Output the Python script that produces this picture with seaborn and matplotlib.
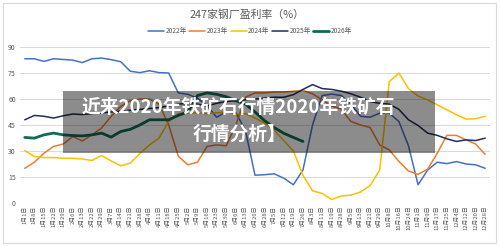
import numpy as np
import pandas as pd
import matplotlib.pyplot as plt
import seaborn as sns
from matplotlib.patches import Rectangle

# 数据
dates = ['1月1日', '1月8日', '1月15日', '1月22日', '1月29日', '2月6日', '2月13日', '2月22日',
         '2月29日', '3月7日', '3月14日', '3月21日', '3月28日', '4月4日', '4月11日', '4月18日',
         '4月25日', '5月2日', '5月9日', '5月16日', '5月23日', '5月30日', '6月6日', '6月13日',
         '6月20日', '6月28日', '7月5日', '7月12日', '7月19日', '7月26日', '8月3日', '8月11日',
         '8月19日', '8月28日', '9月5日', '9月13日', '9月21日', '9月29日', '10月8日', '10月16日',
         '10月24日', '11月1日', '11月9日', '11月17日', '11月25日', '12月4日', '12月12日',
         '12月20日', '12月28日']

y2022 = [83.2, 83.2, 81.7, 83.2, 82.8, 82.4, 81.0, 83.2, 83.6, 82.7, 81.5, 76.0, 75.2,
         76.3, 75.2, 75.0, 63.5, 62.7, 60.5, 56.0, 49.5, 52.5, 52.0, 42.0, 16.0, 16.3,
         16.8, 14.3, 10.5, 19.0, 45.0, 62.0, 62.8, 62.0, 57.0, 50.0, 49.5, 51.8, 51.8,
         47.0, 33.0, 10.5, 19.0, 23.5, 22.7, 23.9, 22.5, 22.0, 20.0]
y2023 = [20.0, 23.5, 28.7, 32.6, 34.0, 38.3, 35.8, 39.3, 43.2, 50.0, 55.7, 59.0, 60.0,
         60.0, 57.0, 45.0, 27.0, 22.0, 23.5, 32.6, 33.5, 33.0, 45.0, 61.0, 63.5, 63.5,
         64.0, 64.0, 64.5, 65.0, 63.0, 59.5, 56.0, 54.0, 47.0, 45.0, 43.5, 33.5, 30.6,
         24.0, 18.5, 16.5, 19.5, 28.7, 39.0, 39.0, 36.4, 34.0, 28.0]
y2024 = [30.2, 26.8, 26.2, 26.2, 25.8, 25.8, 25.4, 24.5, 27.4, 24.3, 21.4, 23.0, 28.5,
         33.5, 37.5, 47.0, 51.5, 52.0, 52.0, 51.5, 52.0, 52.5, 51.0, 51.5, 49.0, 46.0,
         42.0, 36.0, 30.0, 16.0, 7.0, 5.5, 2.0, 4.0, 4.5, 6.3, 10.0, 19.0, 70.0,
         75.0, 66.0, 61.7, 59.5, 56.6, 53.8, 50.9, 48.4, 48.6, 50.0]
y2025 = [48.0, 50.5, 50.0, 49.0, 50.3, 51.3, 51.0, 51.5, 52.0, 52.5, 53.0, 53.5, 54.0,
         54.5, 55.0, 56.0, 57.0, 57.5, 57.0, 56.0, 57.5, 58.5, 59.0, 59.5, 60.0, 60.5,
         61.0, 61.0, 62.5, 65.5, 68.3, 66.0, 65.5, 64.5, 63.0, 61.0, 58.5, 57.5, 57.0,
         54.0, 48.0, 44.7, 40.3, 39.0, 37.0, 35.5, 36.4, 36.0, 37.4]
y2026 = [37.8, 37.4, 39.3, 40.3, 39.3, 38.9, 38.7, 39.3, 40.3, 38.0, 41.2, 42.5, 45.0,
         48.0, 48.0, 48.0, 50.5, 52.5, 62.0, 63.5, 62.7, 61.3, 59.0, 57.0, 52.5, 47.5,
         43.5, 40.2, 37.8, 35.5] + [np.nan] * 19

years = ['2022年', '2023年', '2024年', '2025年', '2026年']
colors = ['#4472C4', '#ED7D31', '#FFC000', '#1F2D5A', '#0F6B55']
widths = [1.1, 1.1, 1.1, 1.1, 2.0]

df = pd.DataFrame({'日期': dates, '2022年': y2022, '2023年': y2023,
                   '2024年': y2024, '2025年': y2025, '2026年': y2026})
df['x'] = np.arange(len(dates))

sns.set_theme(style='white')
plt.rcParams['font.family'] = ['Noto Sans CJK SC', 'DejaVu Sans']

fig = plt.figure(figsize=(5, 2.46), dpi=100)
ax = fig.add_axes([0.04, 0.175, 0.94, 0.634])

for year, c, w in zip(years, colors, widths):
    sns.lineplot(data=df, x='x', y=year, ax=ax, color=c, linewidth=w, label=year)

ax.set_xlim(-0.5, len(dates) - 0.5)
ax.set_ylim(0, 90)
ax.set_yticks(range(0, 91, 15))
ax.set_xticks(df['x'])
ax.set_xticklabels(dates, rotation=90, fontsize=4.2, color='#595959')
ax.tick_params(axis='y', labelsize=5, labelcolor='#595959', length=0, pad=3)
ax.tick_params(axis='x', length=0, pad=2)
ax.set_xlabel('')
ax.set_ylabel('')
ax.yaxis.grid(True, color='#D9D9D9', linewidth=0.7)
ax.xaxis.grid(False)
for s in ax.spines.values():
    s.set_visible(False)

handles, labels = ax.get_legend_handles_labels()
ax.get_legend().remove()
fig.legend(handles, labels, loc='center', bbox_to_anchor=(0.5, 0.874), ncol=5,
           frameon=False, fontsize=4.8, handlelength=2.4, handletextpad=0.2,
           columnspacing=0.4, labelcolor='#595959')

fig.text(0.494, 0.943, '247家钢厂盈利率（%）', ha='center', va='center',
         fontsize=7.8, color='#595959')

# 外框
fig.patches.append(Rectangle((3 / 500, 3 / 246), 493 / 500, 240 / 246, fill=False,
                             edgecolor='#D9D9D9', linewidth=0.8,
                             transform=fig.transFigure, zorder=0))

# 灰色遮罩和标题文字
fig.patches.append(Rectangle((63 / 500, 1 - 153 / 246), 372 / 500, 62 / 246,
                             facecolor='black', alpha=0.45, edgecolor='none',
                             transform=fig.transFigure, zorder=5))
fig.text(0.477, 1 - 107 / 246, '近来2020年铁矿石行情2020年铁矿石', ha='center', va='center',
         fontsize=13.5, fontweight='bold', color='white', zorder=6)
fig.text(0.48, 1 - 134 / 246, '行情分析】', ha='center', va='center',
         fontsize=13.5, fontweight='bold', color='white', zorder=6)

fig.savefig('out.png', dpi=100, facecolor='white')
